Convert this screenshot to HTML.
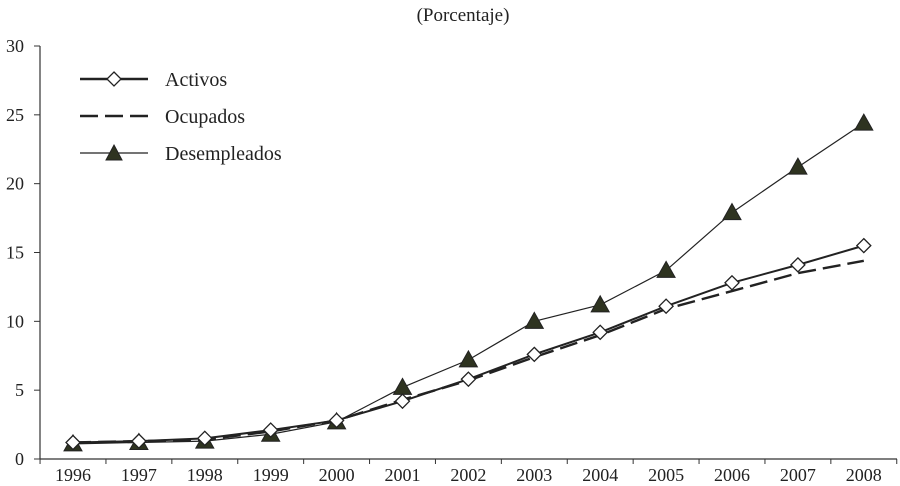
<!DOCTYPE html>
<html><head><meta charset="utf-8"><style>
body{margin:0;background:#fff}
svg{display:block;font-family:"Liberation Serif",serif}
</style></head><body>
<svg id="chart" width="900" height="486">
<text x="463" y="21" text-anchor="middle" font-size="19" fill="#222">(Porcentaje)</text>
<g id="axes"></g><g id="series"></g>
<g>
<g>
<line x1="80" y1="79" x2="148" y2="79" stroke="#222" stroke-width="2.4"/>
<path d="M114,72 L121,79 L114,86 L107,79Z" fill="#fff" stroke="#222" stroke-width="1.3"/>
<text x="165" y="86" font-size="20" fill="#222">Activos</text></g>
<g>
<line x1="80" y1="116" x2="148" y2="116" stroke="#222" stroke-width="2.4" stroke-dasharray="18,7"/>
<text x="165" y="123" font-size="20" fill="#222">Ocupados</text></g>
<g>
<line x1="80" y1="153" x2="148" y2="153" stroke="#222" stroke-width="1.2"/>
<path d="M114,145 L122,160 L106,160Z" fill="#2e3320" stroke="#222"/>
<text x="165" y="160" font-size="20" fill="#222">Desempleados</text></g>
</g>
</svg>
<script>
const years=[1996,1997,1998,1999,2000,2001,2002,2003,2004,2005,2006,2007,2008];
const activos=[1.2,1.3,1.5,2.1,2.8,4.2,5.8,7.6,9.2,11.1,12.8,14.1,15.5];
const ocupados=[1.2,1.3,1.4,2.0,2.8,4.3,5.7,7.4,9.0,10.9,12.2,13.5,14.4];
const desempleados=[1.1,1.2,1.3,1.8,2.7,5.2,7.2,10.0,11.2,13.7,17.9,21.2,24.4];
const yTicks=[0,5,10,15,20,25,30];
const NS="http://www.w3.org/2000/svg";
const x0=73,dx=65.9,yBase=459,yTop=46,yMax=30;
const X=i=>x0+i*dx, Y=v=>yBase-(yBase-yTop)*v/yMax;
function mk(tag,attrs,parent){const e=document.createElementNS(NS,tag);for(const k in attrs)e.setAttribute(k,attrs[k]);parent.appendChild(e);return e;}
const ax=document.getElementById('axes'),se=document.getElementById('series');
let l=mk('line',{x1:40,y1:yTop,x2:40,y2:yBase,stroke:'#333','stroke-width':1.2},ax);


l=mk('line',{x1:40,y1:yBase,x2:897,y2:yBase,stroke:'#333','stroke-width':1.2},ax);


yTicks.forEach(v=>{mk('line',{x1:34,y1:Y(v),x2:40,y2:Y(v),stroke:'#333'},ax);
 const t=mk('text',{x:24,y:Y(v)+6,'text-anchor':'end','font-size':18,fill:'#222'},ax);t.textContent=v;
 
 });
years.forEach((yr,i)=>{mk('line',{x1:X(i)-dx/2,y1:yBase,x2:X(i)-dx/2,y2:yBase+5,stroke:'#333'},ax);
 const t=mk('text',{x:X(i),y:481,'text-anchor':'middle','font-size':18,fill:'#222'},ax);t.textContent=yr;
 
 });
mk('line',{x1:X(12)+dx/2,y1:yBase,x2:X(12)+dx/2,y2:yBase+5,stroke:'#333'},ax);
function pts(a){return a.map((v,i)=>X(i)+','+Y(v)).join(' ');}
let p=mk('polyline',{points:pts(desempleados),fill:'none',stroke:'#222','stroke-width':1.2},se);


p=mk('polyline',{points:pts(ocupados),fill:'none',stroke:'#222','stroke-width':2.4,'stroke-dasharray':'18,7'},se);


p=mk('polyline',{points:pts(activos),fill:'none',stroke:'#222','stroke-width':2},se);


desempleados.forEach((v,i)=>{const x=X(i),y=Y(v);
 const m=mk('path',{d:`M${x},${y-9} L${x+9},${y+7} L${x-9},${y+7}Z`,fill:'#2e3320',stroke:'#222'},se);
 
 });
activos.forEach((v,i)=>{const x=X(i),y=Y(v);
 const m=mk('path',{d:`M${x},${y-7} L${x+7},${y} L${x},${y+7} L${x-7},${y}Z`,fill:'#fff',stroke:'#222','stroke-width':1.3},se);
 
 });
</script>
</body></html>
